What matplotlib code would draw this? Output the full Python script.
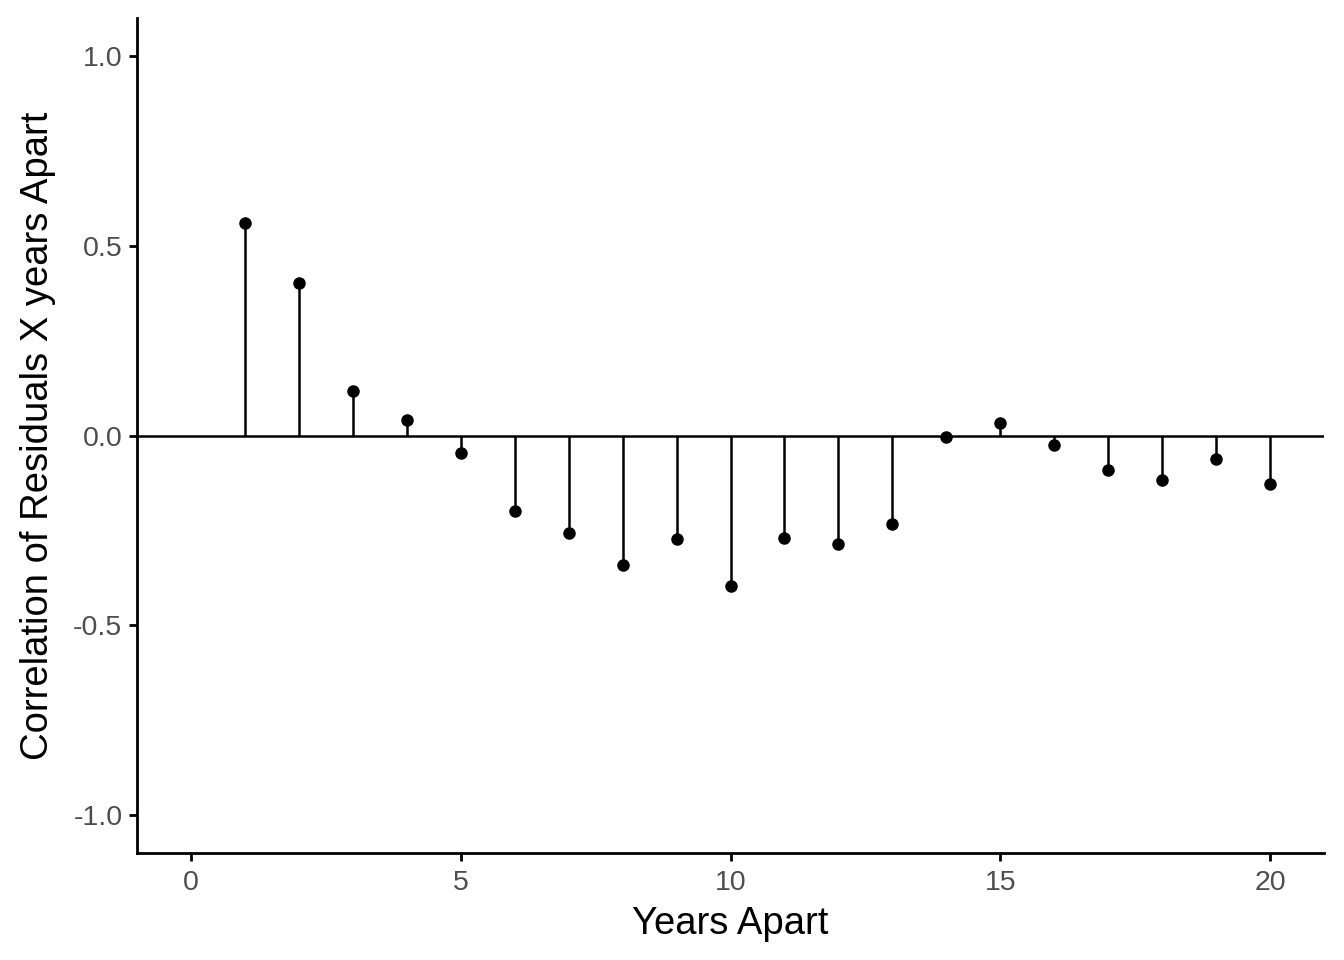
import matplotlib
matplotlib.use("Agg")
import matplotlib.pyplot as plt

lags = list(range(1, 21))
acf = [0.559, 0.401, 0.116, 0.040, -0.045, -0.198, -0.256, -0.340, -0.274, -0.396,
       -0.269, -0.285, -0.232, -0.005, 0.032, -0.026, -0.090, -0.116, -0.061, -0.127]
xticks = [0, 5, 10, 15, 20]
yticks = [-1.0, -0.5, 0.0, 0.5, 1.0]

plt.rcParams['font.family'] = ['Liberation Sans', 'DejaVu Sans']

fig = plt.figure(figsize=(13.44, 9.6), dpi=100)
ax = fig.add_axes([137/1344, 1-853/960, (1324-137)/1344, (853-18)/960])

ax.axhline(0, color='black', lw=1.8, zorder=1)
ax.vlines(lags, 0, acf, color='black', lw=1.8, zorder=2)
ax.plot(lags, acf, 'o', color='black', ms=8, zorder=3)

ax.set_xlim(-1, 21)
ax.set_ylim(-1.1, 1.1)
ax.set_xticks(xticks)
ax.set_xticklabels([str(t) for t in xticks])
ax.set_yticks(yticks)
ax.set_yticklabels([f"{t:.1f}" for t in yticks])

for s in ['top', 'right']:
    ax.spines[s].set_visible(False)
for s in ['left', 'bottom']:
    ax.spines[s].set_linewidth(2.0)
    ax.spines[s].set_color('black')

ax.tick_params(axis='both', length=5.5, width=2.0, color='black',
               labelsize=20.5, labelcolor='#4D4D4D', pad=5)
ax.tick_params(axis='x', pad=7)
ax.set_xlabel('Years Apart', fontsize=27.5, color='black', labelpad=7)
ax.set_ylabel('Correlation of Residuals X years Apart', fontsize=27.5, color='black', labelpad=12)

fig.savefig('out.png', dpi=100)
